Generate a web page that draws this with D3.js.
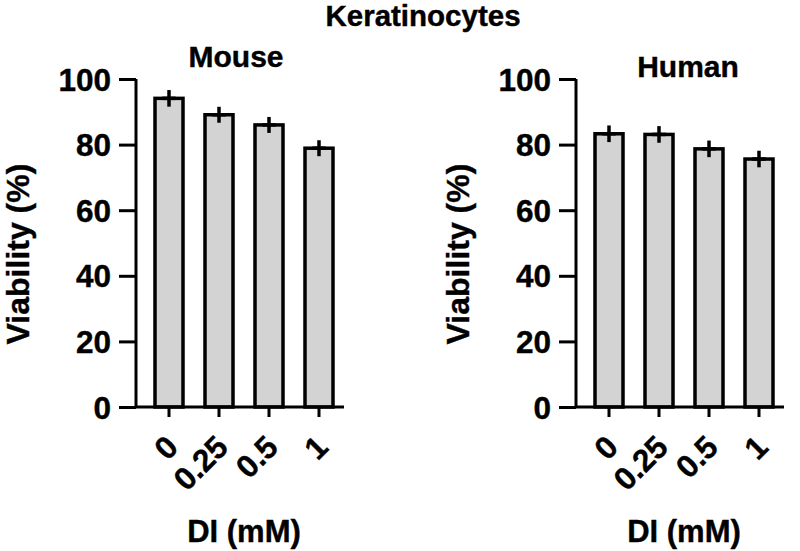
<!DOCTYPE html>
<html>
<head>
<meta charset="utf-8">
<script src="https://cdn.jsdelivr.net/npm/d3@7"></script>
<style>
  html, body { margin: 0; padding: 0; background: #fff; }
  svg text { font-family: "Liberation Sans", Arial, sans-serif; font-weight: bold; fill: #000; stroke: #000; stroke-width: 0.4px; }
</style>
</head>
<body>
<svg id="chart" width="800" height="551"></svg>
<script>
// ---- data ----
const categories = ["0", "0.25", "0.5", "1"];
const mouseMeans = [94.1, 89.1, 86.0, 78.9];
const mouseSD = [2.0, 1.9, 1.9, 1.9];
const humanMeans = [83.3, 83.1, 78.7, 75.6];
const humanSD = [2.0, 2.0, 2.0, 2.0];
const yTicks = [0, 20, 40, 60, 80, 100];
const mainTitle = "Keratinocytes";
const panelTitles = ["Mouse", "Human"];
const yLabel = "Viability (%)";
const xLabel = "DI (mM)";

const svg = d3.select("#chart");
const FS = 30;
const TFS = 31.5;
const LW = 3;
const BW = 3.5;
const barFill = "#d3d3d3";

const y = d3.scaleLinear().domain([0, 100]).range([407, 79]);

svg.append("text").attr("x", 423).attr("y", 26).attr("text-anchor", "middle")
  .style("font-size", "29.5px").text(mainTitle);

const panels = [
  { axisX: 136, means: mouseMeans, sd: mouseSD, title: panelTitles[0], tx: 236, ty: 67 },
  { axisX: 576, means: humanMeans, sd: humanSD, title: panelTitles[1], tx: 688, ty: 77 }
];

panels.forEach(p => {
  const g = svg.append("g");
  const x = d3.scaleBand().domain(categories)
    .range([p.axisX + 8, p.axisX + 208]).paddingInner(0.44).paddingOuter(0.22);

  // bars
  g.selectAll("rect.bar").data(categories).enter().append("rect")
    .attr("class", "bar")
    .attr("x", d => x(d))
    .attr("width", x.bandwidth())
    .attr("y", (d, i) => y(p.means[i]))
    .attr("height", (d, i) => y(0) - y(p.means[i]))
    .attr("fill", barFill).attr("stroke", "#000").attr("stroke-width", BW);

  // error bars (+ shape)
  categories.forEach((d, i) => {
    const cx = x(d) + x.bandwidth() / 2;
    g.append("line")
      .attr("x1", cx).attr("x2", cx)
      .attr("y1", y(p.means[i] + p.sd[i])).attr("y2", y(p.means[i] - p.sd[i]))
      .attr("stroke", "#000").attr("stroke-width", BW).attr("stroke-linecap", "square");
    g.append("line")
      .attr("x1", cx - 5).attr("x2", cx + 5)
      .attr("y1", y(p.means[i])).attr("y2", y(p.means[i]))
      .attr("stroke", "#000").attr("stroke-width", BW).attr("stroke-linecap", "square");
  });

  // y axis
  const yAxis = d3.axisLeft(y).tickValues(yTicks).tickSize(17).tickPadding(8).tickFormat(d3.format("d"));
  const ya = g.append("g").attr("transform", `translate(${p.axisX},0)`).call(yAxis);
  ya.select(".domain").attr("stroke-width", LW).attr("d", `M0,${y(100)}V${y(0)}`);
  ya.selectAll(".tick line").attr("stroke-width", LW);
  ya.selectAll(".tick text").style("font-size", TFS + "px").attr("dy", "0.35em");

  // x axis
  const xAxis = d3.axisBottom(x).tickSize(10).tickPadding(0);
  const xa = g.append("g").attr("transform", `translate(0,${y(0)})`).call(xAxis);
  xa.select(".domain").attr("stroke-width", LW).attr("d", `M${p.axisX},0H${p.axisX + 208}`);
  xa.selectAll(".tick line").attr("stroke-width", LW);
  xa.selectAll(".tick text")
    .style("font-size", TFS + "px")
    .attr("text-anchor", "end")
    .attr("y", 0).attr("dy", 0)
    .attr("transform", "translate(11,42) rotate(-45)");

  // axis titles
  g.append("text")
    .attr("transform", `translate(${p.axisX - 107},${254}) rotate(-90)`)
    .attr("text-anchor", "middle").style("font-size", "32px").text(yLabel);
  g.append("text")
    .attr("x", p.axisX + 108).attr("y", 542).attr("text-anchor", "middle")
    .style("font-size", "31px").text(xLabel);

  // panel title
  g.append("text").attr("x", p.tx).attr("y", p.ty).attr("text-anchor", "middle")
    .style("font-size", FS + "px").text(p.title);
});
</script>
</body>
</html>
